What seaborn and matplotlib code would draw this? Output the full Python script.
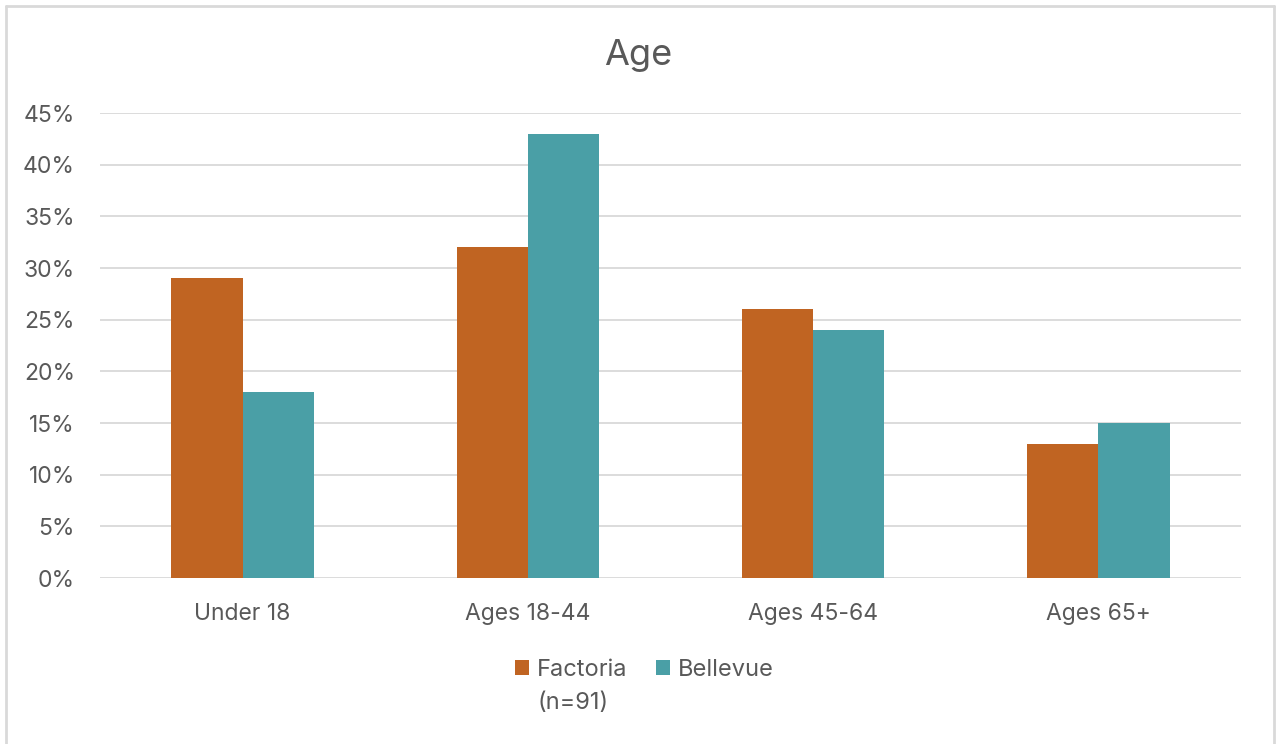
import pandas as pd
import matplotlib.pyplot as plt
import seaborn as sns
from matplotlib.lines import Line2D
from matplotlib.ticker import PercentFormatter

categories = ["Under 18", "Ages 18-44", "Ages 45-64", "Ages 65+"]
factoria = [29, 32, 26, 13]
bellevue = [18, 43, 24, 15]
series = ["Factoria", "Bellevue"]
factoria_note = "(n=91)"

df = pd.DataFrame({
    "age": categories * 2,
    "pct": factoria + bellevue,
    "site": [series[0]] * 4 + [series[1]] * 4,
})

sns.set_style("white")
plt.rcParams["font.family"] = ["Inter", "DejaVu Sans"]
text_color = "#595959"

fig = plt.figure(figsize=(12.76, 7.44), dpi=100)
ax = fig.add_axes([0.0784, 0.2231, 0.8942, 0.6249])

sns.barplot(df, x="age", y="pct", hue="site", order=categories,
            palette=["#C06422", "#4A9FA6"], width=0.5, saturation=1,
            linewidth=0, ax=ax, zorder=3)

ax.set_ylim(0, 45)
ax.set_yticks(range(0, 46, 5))
ax.yaxis.set_major_formatter(PercentFormatter(decimals=0))
ax.grid(axis="y", color="#D9D9D9", linewidth=1.3, zorder=0)
ax.set_axisbelow(True)
for s in ax.spines.values():
    s.set_visible(False)
ax.tick_params(length=0, labelsize=16.5, labelcolor=text_color)
ax.tick_params(axis="y", pad=18)
ax.tick_params(axis="x", pad=18)
ax.set_xlabel(None)
ax.set_ylabel(None)

fig.text(0.5, 0.926, "Age", ha="center", va="center", fontsize=26, color=text_color)

handles, labels = ax.get_legend_handles_labels()
ax.legend_.remove()
leg = fig.legend(handles, labels, loc="center",
                 ncol=2, frameon=False, fontsize=17, labelcolor=text_color,
                 handlelength=0.6, handleheight=0.6, handletextpad=0.35,
                 columnspacing=1.2)
leg.set_bbox_to_anchor((0.505, 1 - 670 / 744), transform=fig.transFigure)

# second line under the Factoria legend entry
fig.canvas.draw()
t0 = leg.get_texts()[0].get_window_extent()
x0 = t0.x0 / fig.bbox.width
fig.text(x0, 1 - 703 / 744, factoria_note, ha="left", va="center",
         fontsize=17, color=text_color)

border = "#D9D9D9"
fig.add_artist(Line2D([6 / 1276, 6 / 1276], [0, 1 - 5.5 / 744], color=border, lw=2))
fig.add_artist(Line2D([6 / 1276, 1273.5 / 1276], [1 - 5.5 / 744, 1 - 5.5 / 744], color=border, lw=2))
fig.add_artist(Line2D([1273.5 / 1276, 1273.5 / 1276], [0, 1 - 5.5 / 744], color=border, lw=2))

plt.savefig("out.png", dpi=100)
